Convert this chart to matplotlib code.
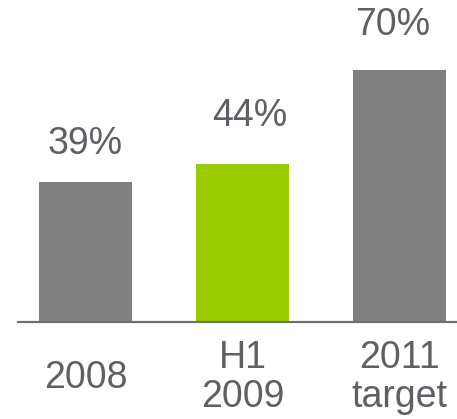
import matplotlib.pyplot as plt

# data
categories = ['2008', 'H1\n2009', '2011\ntarget']
values = [39, 44, 70]
labels = ['39%', '44%', '70%']
colors = ['#808080', '#99cc00', '#808080']

plt.rcParams['font.family'] = ['Liberation Sans', 'DejaVu Sans']
text_color = '#5f6066'

fig = plt.figure(figsize=(4.57, 4.19), dpi=100)
ax = fig.add_axes([18 / 457, 97 / 419, 439 / 457, 322 / 419])

x = range(len(values))
bars = ax.bar(x, values, width=0.59, color=colors)

# value labels above the bars (offsets as in the original slide)
offsets = [(0, 14), (5, 21), (-5, 19)]
for xi, v, lab, off in zip(x, values, labels, offsets):
    ax.annotate(lab, (xi, v), xytext=off,
                textcoords='offset points', ha='center', va='bottom',
                fontsize=27, color=text_color)

ax.set_xlim(-0.43, 2.366)
ax.set_ylim(0, 89.4)

ax.set_xticks(list(x))
ax.set_xticklabels(categories, fontsize=27, color=text_color, linespacing=1.12)
for t in ax.get_xticklabels():
    t.set_va('center')
ax.tick_params(axis='x', length=0, pad=40)
ax.set_yticks([])

for s in ['top', 'right', 'left']:
    ax.spines[s].set_visible(False)
ax.spines['bottom'].set_color('#6d6e71')
ax.spines['bottom'].set_linewidth(1.6)

fig.savefig('out.png', dpi=100)
